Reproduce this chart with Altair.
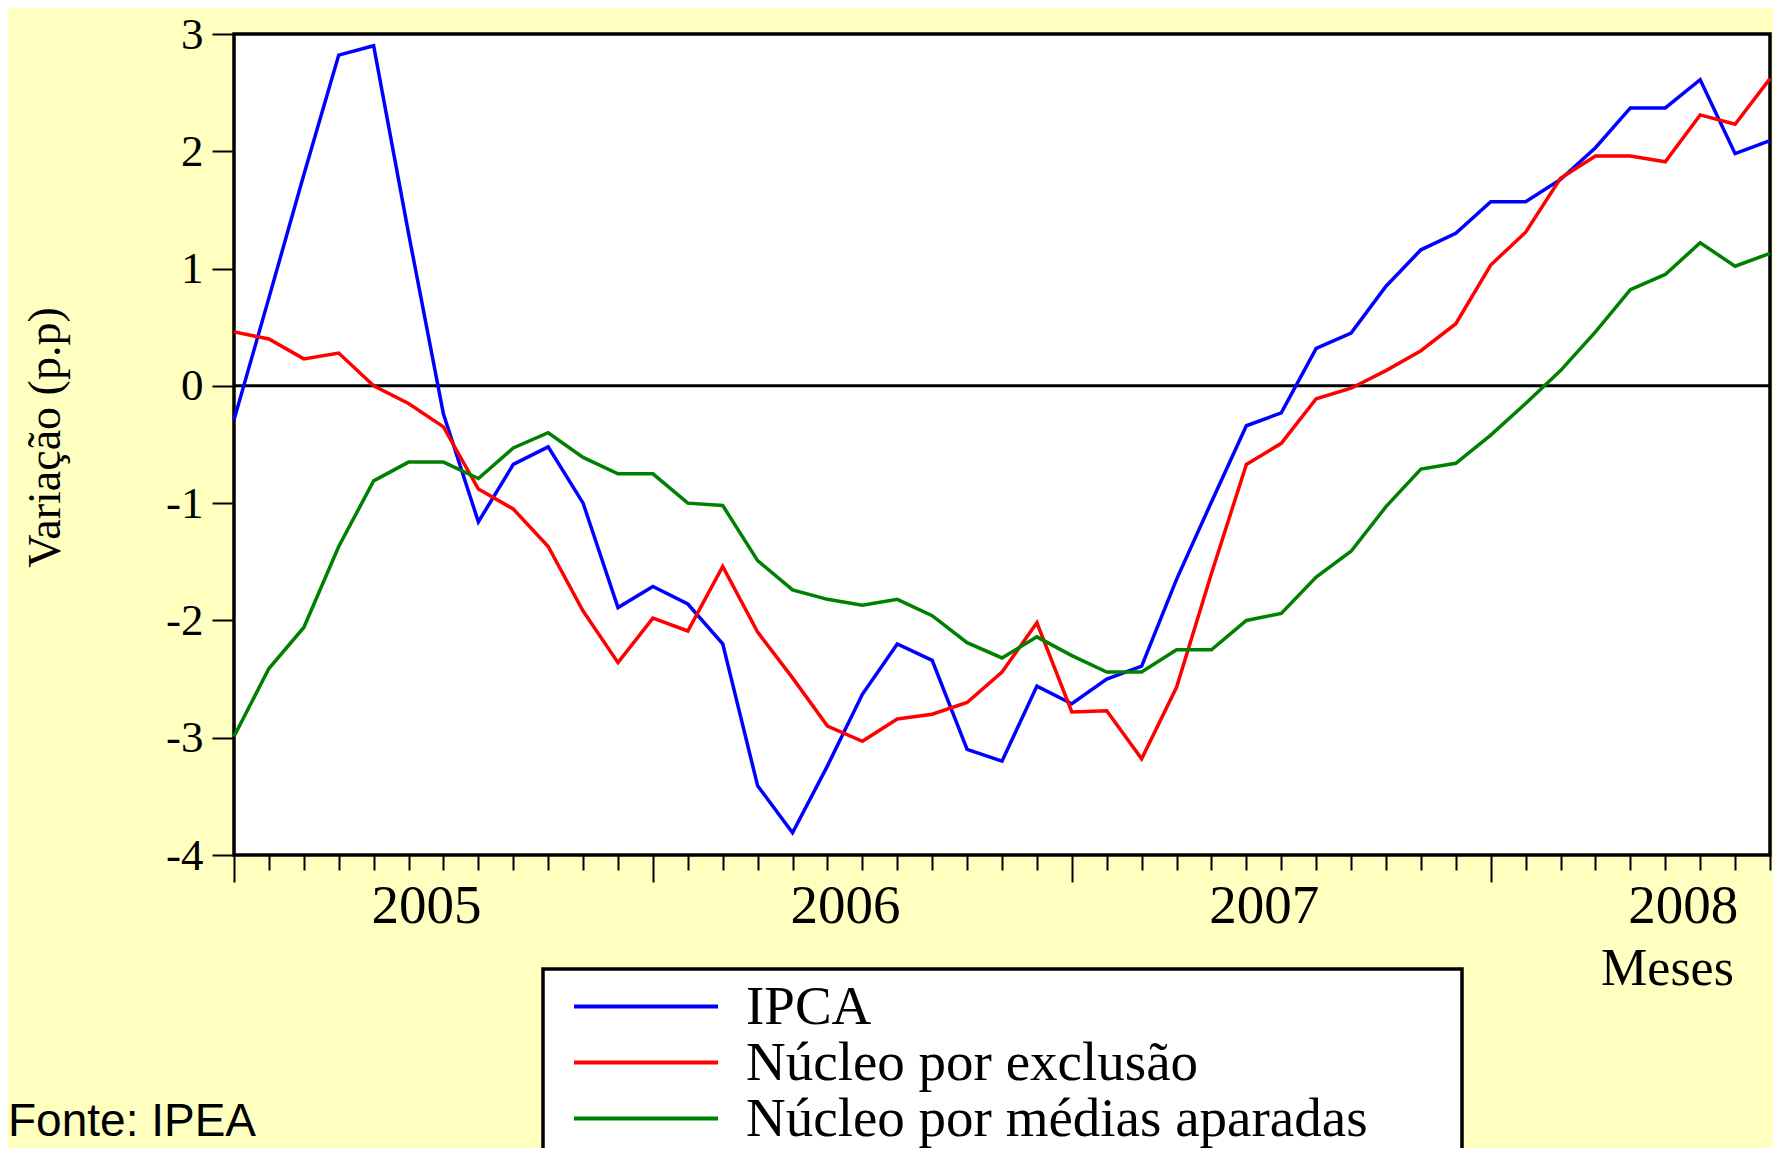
import altair as alt
import pandas as pd

# ---- data ----
months = list(range(45))  # Jan 2005 .. Sep 2008
ipca = [-0.29, 0.75, 1.80, 2.82, 2.90, 1.30, -0.24, -1.16, -0.67, -0.52,
        -1.00, -1.89, -1.71, -1.86, -2.20, -3.41, -3.81, -3.24, -2.63, -2.20,
        -2.34, -3.10, -3.20, -2.56, -2.71, -2.50, -2.39, -1.65, -0.99, -0.34,
        -0.23, 0.32, 0.45, 0.85, 1.16, 1.30, 1.57, 1.57, 1.76, 2.03,
        2.37, 2.37, 2.61, 1.98, 2.09]
nucleo_exclusao = [0.46, 0.40, 0.23, 0.28, 0.00, -0.15, -0.35, -0.88, -1.05, -1.37,
                   -1.92, -2.36, -1.98, -2.09, -1.54, -2.10, -2.49, -2.90, -3.03, -2.84,
                   -2.80, -2.70, -2.44, -2.02, -2.78, -2.77, -3.18, -2.57, -1.60, -0.67,
                   -0.49, -0.11, -0.02, 0.13, 0.30, 0.53, 1.03, 1.31, 1.77, 1.96,
                   1.96, 1.91, 2.31, 2.23, 2.62]
nucleo_medias = [-2.99, -2.41, -2.06, -1.37, -0.81, -0.65, -0.65, -0.79, -0.53, -0.40,
                 -0.61, -0.75, -0.75, -1.00, -1.02, -1.49, -1.74, -1.82, -1.87, -1.82,
                 -1.96, -2.19, -2.32, -2.14, -2.30, -2.44, -2.44, -2.25, -2.25, -2.00,
                 -1.94, -1.63, -1.41, -1.03, -0.71, -0.66, -0.42, -0.15, 0.13, 0.46,
                 0.82, 0.95, 1.22, 1.02, 1.13]

series_names = ["IPCA", "Núcleo por exclusão", "Núcleo por médias aparadas"]
series_colors = ["#0000FF", "#FF0000", "#008000"]

year_positions = [5.5, 17.5, 29.5, 41.5]
year_labels = ["2005", "2006", "2007", "2008"]

y_ticks = [-4, -3, -2, -1, 0, 1, 2, 3]
y_tick_labels = ["-4", "-3", "-2", "-1", "0", "1", "2", "3"]

y_title = "Variação (p.p)"
x_title = "Meses"
source_text = ["Fonte: IPEA"]

# ---- table ----
rows = []
for name, vals in zip(series_names, [ipca, nucleo_exclusao, nucleo_medias]):
    for m, v in zip(months, vals):
        rows.append({"mes": m, "valor": v, "serie": name})
df = pd.DataFrame(rows)

x_label_expr = " : ".join(
    f"datum.value === {p} ? '{l}'" for p, l in zip(year_positions, year_labels)
) + " : ''"
y_label_expr = " : ".join(
    f"datum.value === {v} ? '{l}'" for v, l in zip(y_ticks, y_tick_labels)
) + " : ''"

SERIF = "Liberation Serif"

x_enc = alt.X(
    "mes:Q",
    scale=alt.Scale(domain=[0, 44], nice=False, zero=False),
    axis=alt.Axis(
        values=months + year_positions,
        labelExpr=x_label_expr,
        tickSize={"condition": {"test": "datum.value % 12 === 0", "value": 27}, "value": 15},
        tickOpacity={"condition": {"test": "datum.value % 1 !== 0", "value": 0}, "value": 1},
        labelPadding=9,
        labelFontSize=55,
        labelOverlap=False,
        labelFlush=False,
        labelBound=False,
        title=x_title,
        titleFontSize=52,
        titleX=1433,
        titleY=129,
        titleBaseline="alphabetic",
        titleAlign="center",
    ),
)

y_enc = alt.Y(
    "valor:Q",
    scale=alt.Scale(domain=[-4, 3], nice=False, zero=False),
    axis=alt.Axis(
        values=y_ticks,
        labelExpr=y_label_expr,
        tickSize=22,
        labelPadding=9,
        labelFontSize=45,
        title=y_title,
        titleFontSize=46,
        titleX=-189,
        titleY=403,
        titleAngle=270,
        titleBaseline="middle",
        titleAlign="center",
    ),
)

color_enc = alt.Color(
    "serie:N",
    scale=alt.Scale(domain=series_names, range=series_colors),
    sort=series_names,
    legend=alt.Legend(
        title=None,
        orient="none",
        legendX=309,
        legendY=934,
        direction="vertical",
        symbolType="stroke",
        symbolSize=20736,
        symbolStrokeWidth=4,
        labelFont=SERIF,
        labelFontSize=55,
        labelColor="black",
        labelLimit=2000,
        padding=12,
        symbolOffset=17,
        labelOffset=26,
        rowPadding=0,
        clipHeight=53,
    ),
)

# white legend panel behind the legend entries (reaches past the bottom edge)
legend_panel = alt.Chart(pd.DataFrame({"p": [0]})).mark_rect(
    fill="white", stroke="black", strokeWidth=3.5
).encode(
    x=alt.value(309), x2=alt.value(1228), y=alt.value(935), y2=alt.value(1220)
)

zero_rule = alt.Chart(pd.DataFrame({"z": [0]})).mark_rule(
    color="black", strokeWidth=3
).encode(y=alt.datum(0))

lines = alt.Chart(df).mark_line(strokeWidth=3.5).encode(
    x=x_enc, y=y_enc, color=color_enc
)

fonte = alt.Chart(pd.DataFrame({"t": source_text})).mark_text(
    align="left", baseline="alphabetic", font="Liberation Sans",
    fontSize=46, color="black"
).encode(text="t:N", x=alt.value(-226), y=alt.value(1102))

chart = alt.layer(legend_panel, zero_rule, lines, fonte).properties(
    width=1536,
    height=821,
    autosize=alt.AutoSizeParams(type="none"),
    padding={"left": 226, "top": 26, "right": 3, "bottom": 293},
).configure(
    background="#FFFFC0",
).configure_view(
    fill="white", stroke="black", strokeWidth=3.5
).configure_axis(
    domain=False, grid=False, tickColor="black", tickWidth=2,
    labelColor="black", labelFont=SERIF, titleFont=SERIF,
    titleFontWeight="normal", titleColor="black",
)

chart.save("out.html", embed_options={"renderer": "svg", "actions": False})
